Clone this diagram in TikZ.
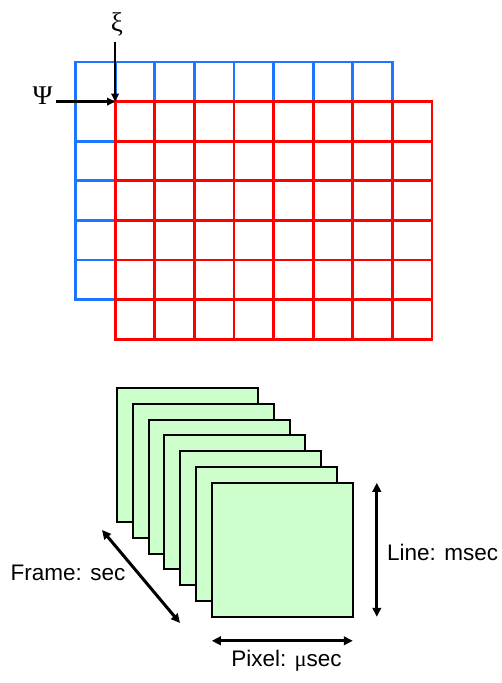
\documentclass[tikz,border=0pt]{standalone}
\usepackage{fontspec}
\setmainfont{Liberation Serif}
\newfontfamily\labfont{Liberation Sans}
\usetikzlibrary{arrows.meta}
\definecolor{gridblue}{RGB}{30,118,255}
\definecolor{gridred}{RGB}{255,0,0}
\definecolor{framegreen}{RGB}{204,255,204}
\tikzset{
  bluegrid/.style={draw=gridblue, line width=2.8pt, line cap=rect},
  redgrid/.style={draw=gridred, line width=2.8pt, line cap=rect},
  greek/.style={inner sep=0pt, font=\fontsize{27}{31}\selectfont},
  toparrow/.style={draw=black, line width=2.4pt, -{Triangle[length=8pt,width=7.5pt]}},
  dimarrow/.style={draw=black, line width=3pt, {Triangle[length=9pt,width=8.5pt]}-{Triangle[length=9pt,width=8.5pt]}},
  framebox/.style={draw=black, line width=2pt, fill=framegreen, anchor=north west,
    minimum width=141pt, minimum height=134pt, inner sep=0pt, outer sep=0pt},
  labeltext/.style={inner sep=0pt, font=\labfont\fontsize{22.5}{27}\selectfont}
}
\begin{document}
\begin{tikzpicture}[x=1pt,y=-1pt]
\useasboundingbox (0,0) rectangle (501,683);
% blue grid (behind)
\foreach \i in {0,...,8}
  \draw[bluegrid] ({75.5+\i*39.6},62) -- ({75.5+\i*39.6},299.6);
\foreach \j in {0,...,6}
  \draw[bluegrid] (75.5,{62+\j*39.6}) -- (392.3,{62+\j*39.6});
% red grid (front)
\fill[white] (115.1,101.6) rectangle (431.9,339.2);
\foreach \i in {0,...,8}
  \draw[redgrid] ({115.1+\i*39.6},101.6) -- ({115.1+\i*39.6},339.2);
\foreach \j in {0,...,6}
  \draw[redgrid] (115.1,{101.6+\j*39.6}) -- (431.9,{101.6+\j*39.6});
% offset labels and arrows
\coordinate (corner) at (115.1,101.6);
\node[greek] (xi) at (117,24) {ξ};
\node[greek] (psi) at (42.5,96) {Ψ};
\coordinate (xistart) at (115.1,42);
\coordinate (psistart) at (56,101.6);
\draw[toparrow] (xistart) -- (corner);
\draw[toparrow] (psistart) -- (corner);
% stacked frames
\foreach \k in {0,...,6}
  \node[framebox] (f\k) at ({117+\k*15.8},{388+\k*15.8}) {};
% dimension arrows
\coordinate (lineTop) at ([xshift=24pt]f6.north east);
\coordinate (lineBot) at ([xshift=24pt]f6.south east);
\draw[dimarrow] (lineTop) -- (lineBot);
\coordinate (pixL) at ([yshift=-24pt]f6.south west);
\coordinate (pixR) at ([yshift=-24pt]f6.south east);
\draw[dimarrow] (pixL) -- (pixR);
\coordinate (frA) at (102,530);
\coordinate (frB) at (180,623);
\draw[dimarrow] (frA) -- (frB);
% labels
\node[labeltext, anchor=west] (linelab) at (387,552) {Line: msec};
\node[labeltext] (pixlab) at (286.5,661) {Pixel: {\rmfamily μ}sec};
\node[labeltext] (framelab) at (68,573) {Frame: sec};
\end{tikzpicture}
\end{document}
